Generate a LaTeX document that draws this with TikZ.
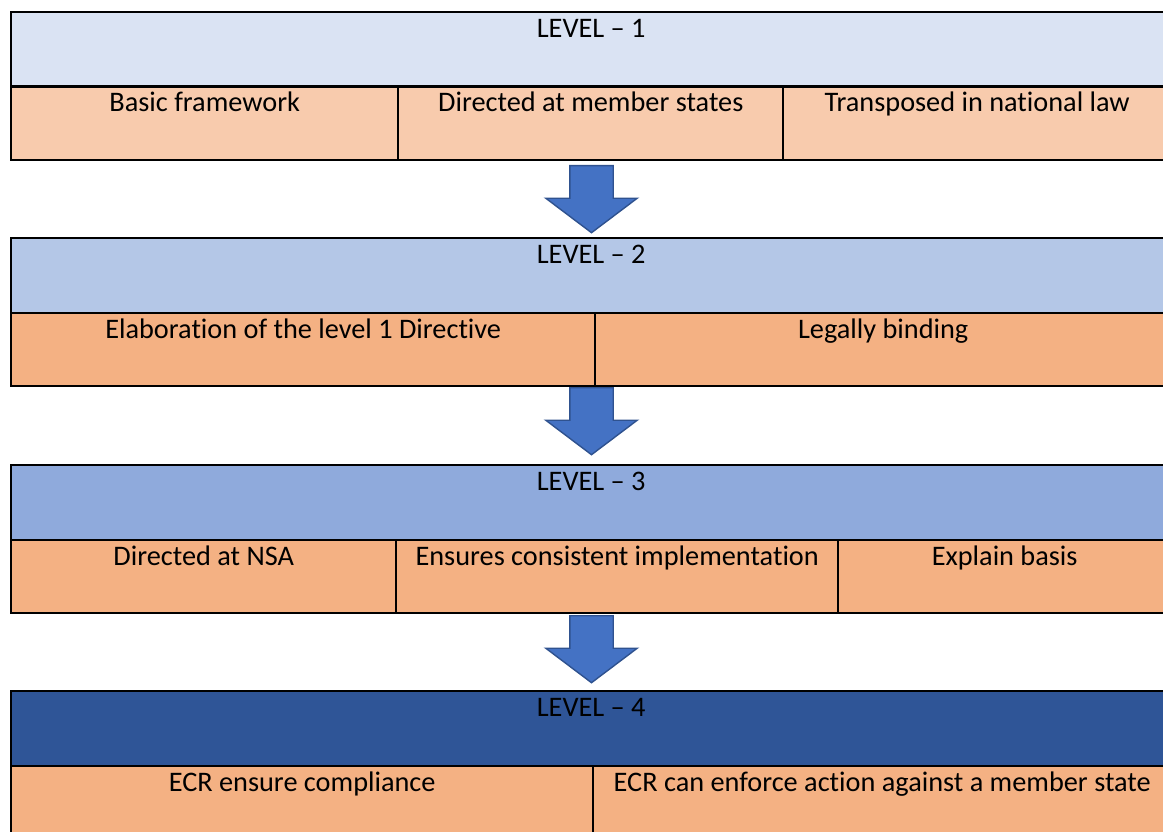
\documentclass[tikz,border=0pt]{standalone}
\usepackage{fontspec}
\setmainfont{Carlito}[Ligatures={TeX,NoCommon}]
\usetikzlibrary{shapes.arrows}

\definecolor{headA}{HTML}{DAE3F3}
\definecolor{headB}{HTML}{B4C7E7}
\definecolor{headC}{HTML}{8FAADC}
\definecolor{headD}{HTML}{2F5597}
\definecolor{rowA}{HTML}{F8CBAD}
\definecolor{rowB}{HTML}{F4B183}
\definecolor{arrowfill}{HTML}{4472C4}
\definecolor{arrowline}{HTML}{2F528F}

\begin{document}
\begin{tikzpicture}[x=1pt,y=-1pt,cell/.style={shape=rectangle,draw=black,line width=2.4pt,anchor=north west,inner sep=0pt,minimum height=73.5pt},hdr/.style={cell,minimum width=1160pt,minimum height=74.5pt},txt/.style={anchor=base,yshift=-26.5pt,inner sep=0pt,font=\fontsize{28.3}{34}\selectfont},down/.style={shape=single arrow,shape border rotate=270,anchor=tail,fill=arrowfill,draw=arrowline,line width=1.4pt,inner sep=0pt,text width=42pt,text height=0pt,text depth=0pt,minimum height=67pt,minimum width=90pt,single arrow head extend=24pt,single arrow tip angle=106}]
\useasboundingbox (0,0) rectangle (1163,832);
\clip (0,0) rectangle (1163,832);

% level 1
\node[hdr,fill=headA] (h1) at (10,11) {};
\node[txt] (h1t) at (h1.north) {LEVEL -- 1};
\node[cell,fill=rowA,minimum width=387pt] (r1a) at (10,85.5) {};
\node[txt] (r1at) at (r1a.north) {Basic framework};
\node[cell,fill=rowA,minimum width=385pt] (r1b) at (397,85.5) {};
\node[txt] (r1bt) at (r1b.north) {Directed at member states};
\node[cell,fill=rowA,minimum width=388pt] (r1c) at (782,85.5) {};
\node[txt] (r1ct) at (r1c.north) {Transposed in national law};

% level 2
\node[hdr,fill=headB] (h2) at (10,237) {};
\node[txt] (h2t) at (h2.north) {LEVEL -- 2};
\node[cell,fill=rowB,minimum width=584pt] (r2a) at (10,311.5) {};
\node[txt] (r2at) at (r2a.north) {Elaboration of the level 1 Directive};
\node[cell,fill=rowB,minimum width=576pt] (r2b) at (594,311.5) {};
\node[txt] (r2bt) at (r2b.north) {Legally binding};

% level 3
\node[hdr,fill=headC] (h3) at (10,464) {};
\node[txt] (h3t) at (h3.north) {LEVEL -- 3};
\node[cell,fill=rowB,minimum width=385pt] (r3a) at (10,538.5) {};
\node[txt] (r3at) at (r3a.north) {Directed at NSA};
\node[cell,fill=rowB,minimum width=442pt] (r3b) at (395,538.5) {};
\node[txt] (r3bt) at (r3b.north) {Ensures consistent implementation};
\node[cell,fill=rowB,minimum width=333pt] (r3c) at (837,538.5) {};
\node[txt] (r3ct) at (r3c.north) {Explain basis};

% level 4
\node[hdr,fill=headD] (h4) at (10,690) {};
\node[txt] (h4t) at (h4.north) {LEVEL -- 4};
\node[cell,fill=rowB,minimum width=582pt] (r4a) at (10,764.5) {};
\node[txt] (r4at) at (r4a.north) {ECR ensure compliance};
\node[cell,fill=rowB,minimum width=578pt] (r4b) at (592,764.5) {};
\node[txt] (r4bt) at (r4b.north) {ECR can enforce action against a member state};

% block arrows between the levels
\node[down] (a1) at (591.5,165) {};
\node[down] (a2) at (591.5,387) {};
\node[down] (a3) at (591.5,615) {};
\end{tikzpicture}
\end{document}
